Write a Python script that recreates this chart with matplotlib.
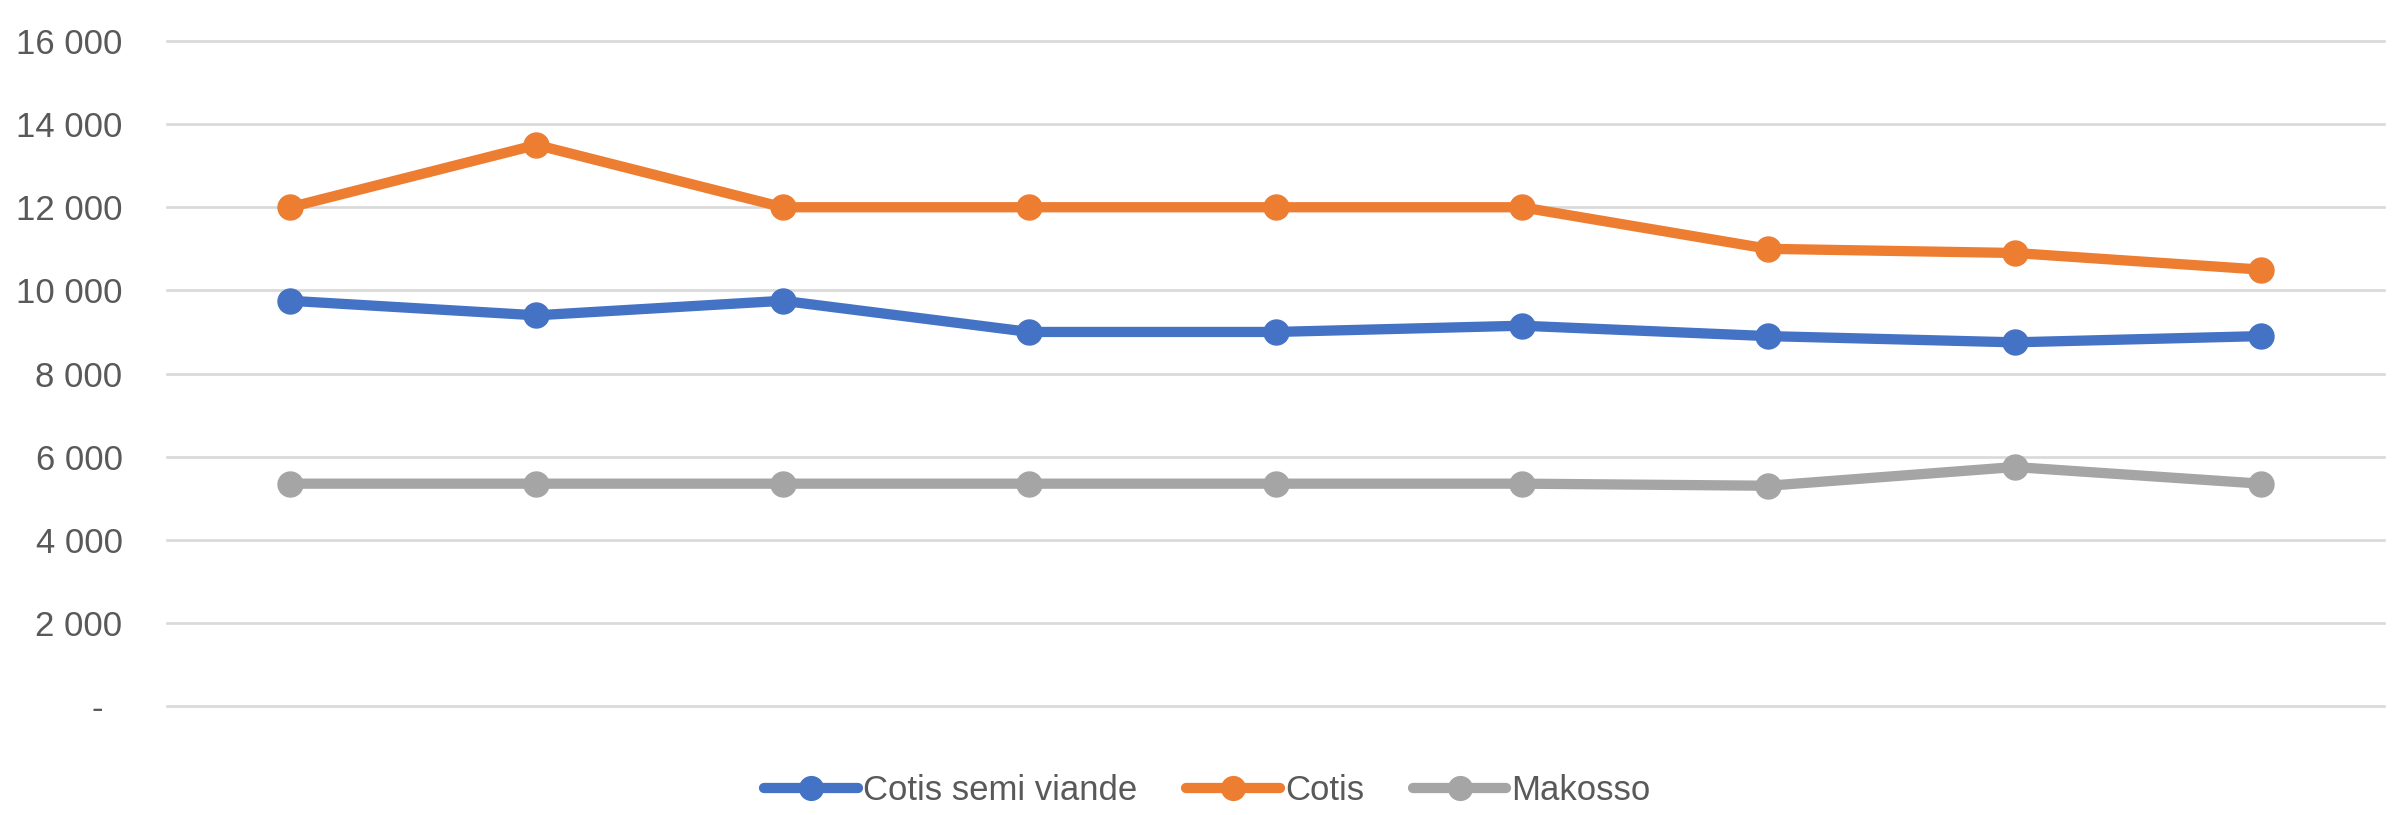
import numpy as np
import matplotlib.pyplot as plt
from matplotlib.ticker import FuncFormatter

# values
periods = list(range(9))
cotis_semi = [9750, 9400, 9750, 9000, 9000, 9150, 8900, 8750, 8900]
cotis = [12000, 13500, 12000, 12000, 12000, 12000, 11000, 10900, 10500]
makosso = [5350, 5350, 5350, 5350, 5350, 5350, 5300, 5750, 5350]
series_names = ["Cotis semi viande", "Cotis", "Makosso"]
colors = ["#4472C4", "#ED7D31", "#A5A5A5"]

plt.rcParams['font.family'] = ['Liberation Sans', 'DejaVu Sans']

fig = plt.figure(figsize=(23.92, 8.15), dpi=100)
ax = fig.add_axes([0.0698, 0.1337, 0.9269, 0.816])

for vals, name, c in zip([cotis_semi, cotis, makosso], series_names, colors):
    ax.plot(periods, vals, color=c, lw=7.4, marker='o', ms=18,
            solid_capstyle='round', label=name, zorder=3)

ax.set_xlim(-0.5, 8.5)
ax.set_ylim(0, 16000)
ax.set_yticks(np.arange(0, 16001, 2000))


def fmt(v, pos):
    if v == 0:
        return "-  "
    return "{:,.0f}".format(v).replace(",", " ")


ax.yaxis.set_major_formatter(FuncFormatter(fmt))
ax.tick_params(axis='y', length=0, pad=32, labelsize=25, labelcolor='#595959')
ax.set_xticks([])
ax.grid(axis='y', color='#D9D9D9', lw=1.9, zorder=0)
for gl in ax.get_ygridlines():
    gl.set_clip_on(False)
for s in ax.spines.values():
    s.set_visible(False)

leg = fig.legend(loc='center', bbox_to_anchor=(0.5048, 0.03), ncol=3, frameon=False,
                 handlelength=2.7, columnspacing=1.4, handletextpad=0.15,
                 markerscale=0.95, prop={'size': 25})
for t in leg.get_texts():
    t.set_color('#595959')

fig.savefig('out.png', dpi=100)
